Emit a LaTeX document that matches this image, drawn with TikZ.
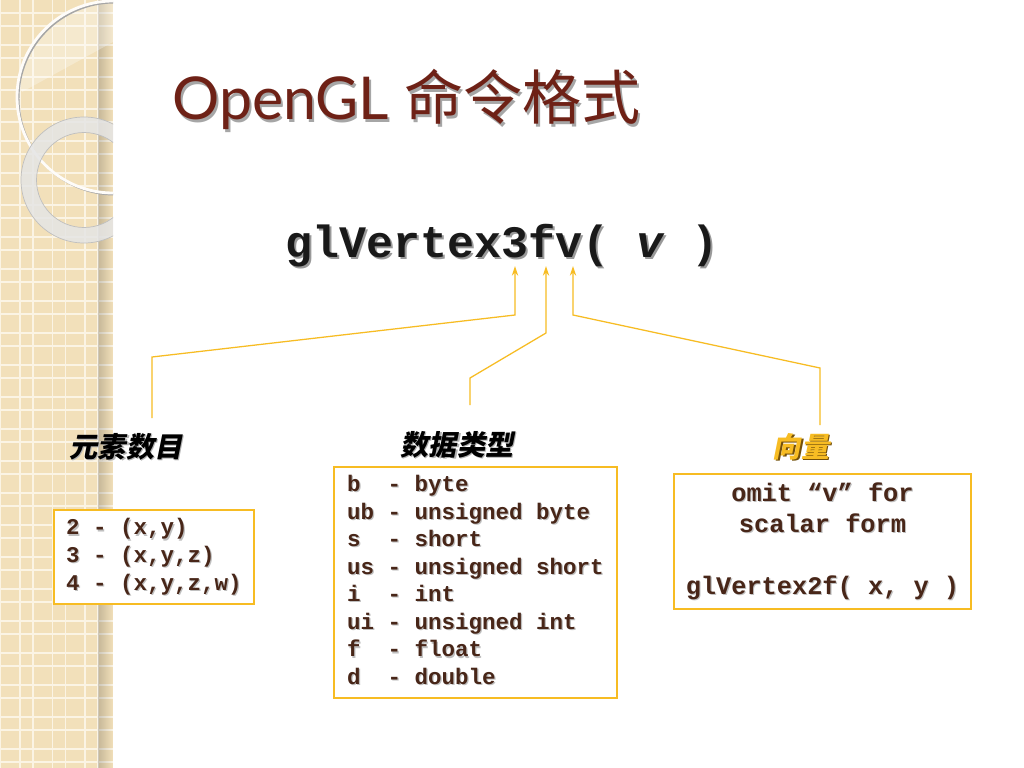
\documentclass[tikz,border=0pt]{standalone}
\usepackage{fontspec}
\setmonofont{Liberation Mono}
\newfontfamily\cjk{Noto Sans CJK SC}
\newfontfamily\cjkit[FakeSlant=0.2]{Noto Sans CJK SC}
\newfontfamily\titlefont{Lato}
\usetikzlibrary{arrows.meta,fadings}
\definecolor{titlered}{RGB}{110,33,22}
\definecolor{codebrown}{RGB}{72,38,24}
\definecolor{gold}{RGB}{247,188,35}
\definecolor{golddark}{RGB}{115,80,10}
\definecolor{strip}{RGB}{242,224,186}
\definecolor{gridline}{RGB}{251,244,228}
\newcommand\shd[3][0.8pt]{\leavevmode\rlap{\kern#1\raisebox{-#1}{\textcolor{#2}{#3}}}#3}
\tikzset{
  link/.style={draw=gold, line width=0.9pt, -{Stealth[length=7pt,width=4.5pt]}},
  infobox/.style={draw=gold, line width=0.9pt, fill=white, text=codebrown, inner sep=0pt,
    font=\ttfamily\bfseries\fontsize{16}{19.6}\selectfont},
  tag/.style={inner sep=0pt, font=\cjkit\bfseries\fontsize{20}{24}\selectfont}
}
\begin{document}
\begin{tikzpicture}[x=0.025cm,y=-0.025cm]
\useasboundingbox (0,0) rectangle (1024,768);
\fill[white] (0,0) rectangle (1024,768);

\begin{scope}
\clip (0,0) rectangle (113,768);
\fill[strip] (0,0) rectangle (113,768);
\foreach \k in {-1,...,3} \draw[gridline, line width=1pt] ({20+32.5*\k},0) -- ++(0,768) ({33+32.5*\k},0) -- ++(0,768);
\foreach \k in {0,...,23} \draw[gridline, line width=1pt] (0,{13+32*\k}) -- ++(113,0) (0,{26+32*\k}) -- ++(113,0);
\fill[black, opacity=0.18, path fading=east] (98,0) rectangle (113,768);
\begin{scope}
\clip (113,97) circle (96);
\fill[white, opacity=0.3] (0,0) -- (113,0) -- (113,42) -- (22,92) -- cycle;
\end{scope}
\draw[black!35, line width=1.4pt] (114.5,98.5) circle (96);
\draw[white!92!strip, line width=2pt] (113,97) circle (96);
\fill[even odd rule, black!10, opacity=0.85] (84,180) circle (63) (84,180) circle (47.5);
\draw[black!25, line width=0.5pt] (84,180) circle (63) (84,180) circle (47.5);
\end{scope}

\node[anchor=base west, inner sep=0pt, text=titlered, font=\fontsize{42}{50}\selectfont] (title) at (172,120) {\shd[1.5pt]{black!35}{\titlefont OpenGL \cjk 命令格式}};
\node[anchor=base west, inner sep=0pt, text=black!90, font=\ttfamily\bfseries\fontsize{32}{38}\selectfont] (func) at (285,257) {\shd[1.5pt]{black!40}{glVertex3fv( \textit{v} )}};

\coordinate (t3) at (515,266);
\coordinate (tf) at (546,266);
\coordinate (tv) at (573,266);

\node[tag] (cnt) at (126,447) {\shd{black!30}{元素数目}};
\node[tag] (typ) at (457,445) {\shd{black!30}{数据类型}};
\node[tag, text=gold] (vec) at (801,447) {\shd{golddark}{向量}};

\coordinate (cntin) at (152,418);
\coordinate (typin) at (470,405);
\coordinate (vecin) at (820,425);
\draw[link] (cntin) -- (152,357) -- (515,315) -- (t3);
\draw[link] (typin) -- (470,378) -- (546,333) -- (tf);
\draw[link] (vecin) -- (820,368) -- (573,315) -- (tv);

\node[infobox, minimum width=5cm, minimum height=2.35cm] (cntbox) at (154,557) {\begin{tabular}{@{}l@{}}
\shd{black!25}{2 - (x,y)}\\
\shd{black!25}{3 - (x,y,z)}\\
\shd{black!25}{4 - (x,y,z,w)}
\end{tabular}};
\node[infobox, minimum width=7.075cm, minimum height=5.775cm] (typbox) at (475.5,582.5) {\begin{tabular}{@{}l@{}}
\shd{black!25}{b~~- byte}\\
\shd{black!25}{ub - unsigned byte}\\
\shd{black!25}{s~~- short}\\
\shd{black!25}{us - unsigned short}\\
\shd{black!25}{i~~- int}\\
\shd{black!25}{ui - unsigned int}\\
\shd{black!25}{f~~- float}\\
\shd{black!25}{d~~- double}
\end{tabular}};
\node[infobox, minimum width=7.425cm, minimum height=3.375cm, font=\ttfamily\bfseries\fontsize{18}{22}\selectfont] (vecbox) at (822.5,541.5) {\begin{tabular}{@{}c@{}}
\shd{black!25}{omit “v” for}\\
\shd{black!25}{scalar form}\\[22pt]
\shd{black!25}{glVertex2f( x, y )}
\end{tabular}};
\end{tikzpicture}
\end{document}
